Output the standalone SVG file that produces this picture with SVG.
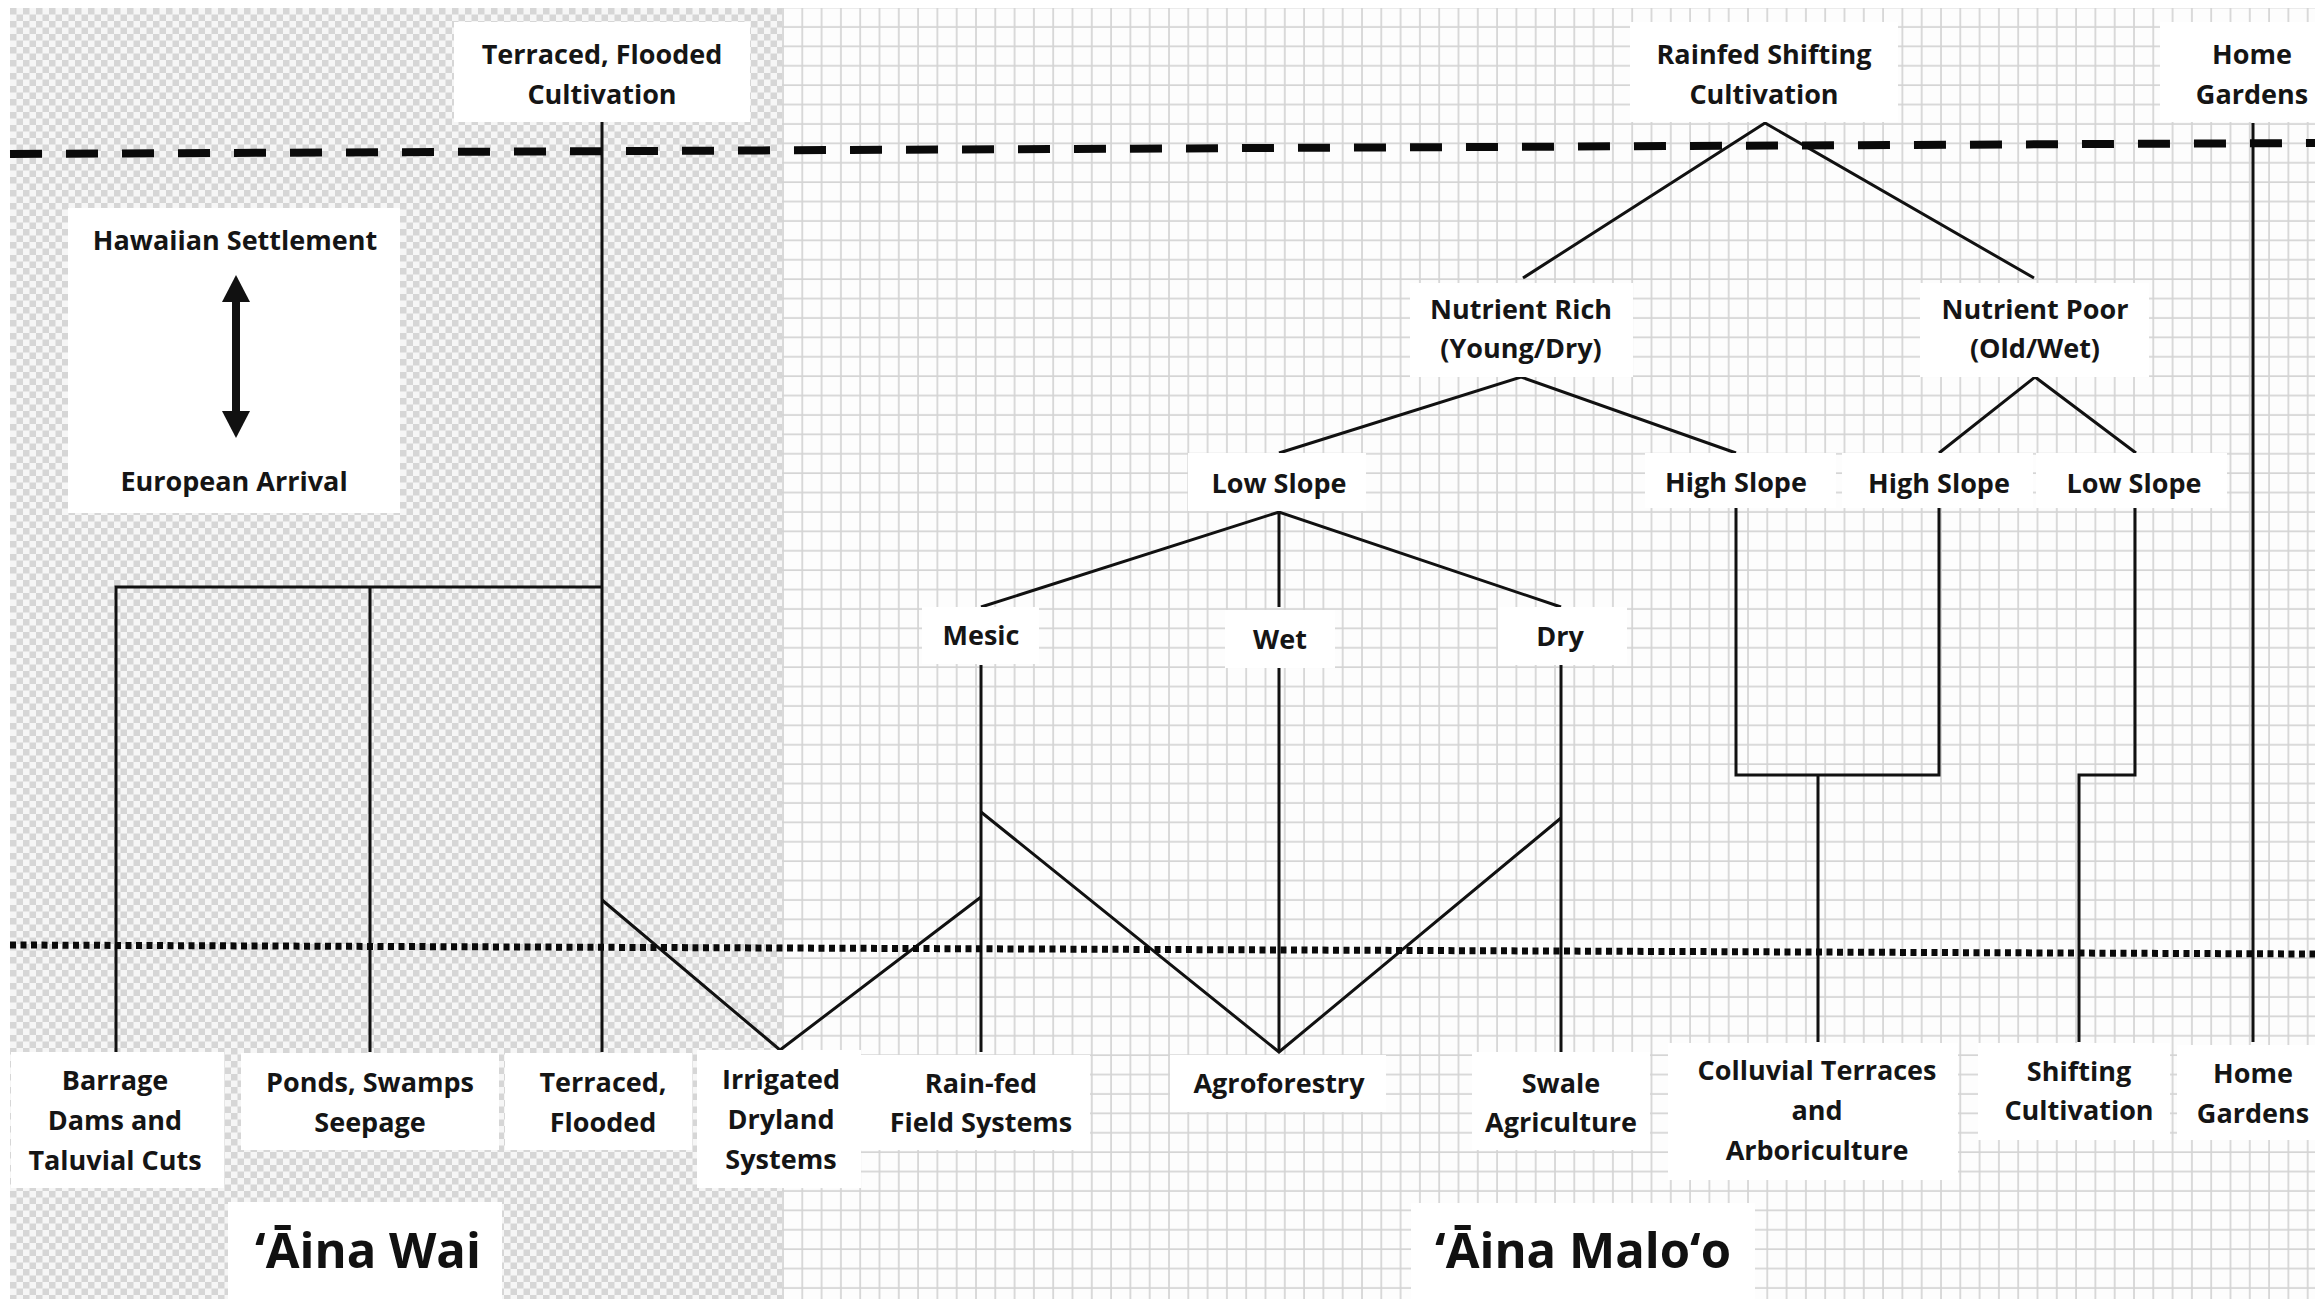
<svg xmlns="http://www.w3.org/2000/svg" width="2315" height="1299" viewBox="0 0 2315 1299">
<defs>
<pattern id="checker" x="10" y="8" width="13" height="13" patternUnits="userSpaceOnUse">
<rect width="13" height="13" fill="#f6f6f6"/>
<rect width="6.5" height="6.5" fill="#d6d6d6"/>
<rect x="6.5" y="6.5" width="6.5" height="6.5" fill="#d6d6d6"/>
</pattern>
<pattern id="grid" x="782" y="6.5" width="19.3" height="19.4" patternUnits="userSpaceOnUse">
<rect width="19.3" height="19.4" fill="#fdfdfd"/>
<path d="M1,0 V19.4 M0,1 H19.3" stroke="#d4d4d4" stroke-width="1.7" fill="none"/>
</pattern>
<marker id="head" viewBox="0 0 27 28" markerUnits="userSpaceOnUse" markerWidth="27" markerHeight="28" refX="12" refY="14" orient="auto-start-reverse">
<path d="M0,0 L27,14 L0,28 Z" fill="#111"/>
</marker>
<style>
.box{fill:#ffffff;stroke:none}
.lbl{font-family:"Open Sans","Liberation Sans",sans-serif;font-weight:700;font-size:27px;fill:#151515;text-anchor:middle}
.big{font-family:"Open Sans","Liberation Sans",sans-serif;font-weight:700;font-size:49px;fill:#111;text-anchor:middle}
.conn{stroke:#111;stroke-width:3;fill:none;stroke-linejoin:miter}
.dash{stroke:#0a0a0a;stroke-width:8;stroke-dasharray:32 24;fill:none}
.dot{stroke:#0a0a0a;stroke-width:7;stroke-dasharray:6 4.5;fill:none}
</style>
</defs>

<rect width="2315" height="1299" fill="#ffffff"/>
<rect x="10" y="8" width="772" height="1291" fill="url(#checker)"/>
<rect x="782" y="8" width="1533" height="1291" fill="url(#grid)"/>

<g id="connectors">
<path class="conn" d="M602,122 V1052"/>
<path class="conn" d="M116,1052 V587 H602"/>
<path class="conn" d="M370,587 V1052"/>
<path class="conn" d="M602,900 L780,1050 L981,897"/>
<path class="conn" d="M981,665 V1052"/>
<path class="conn" d="M981,812 L1279,1052 L1561,818"/>
<path class="conn" d="M1279,668 V1052"/>
<path class="conn" d="M1561,665 V1052"/>
<path class="conn" d="M981,607 L1279,512 L1561,607 M1279,512 V607"/>
<path class="conn" d="M1279,453 L1521,377 L1736,453"/>
<path class="conn" d="M1939,453 L2035,377 L2136,453"/>
<path class="conn" d="M1523,278 L1765,123 L2034,278"/>
<path class="conn" d="M1736,508 V775 H1939 V508 M1818,775 V1042"/>
<path class="conn" d="M2135,508 V775 H2079 V1042"/>
<path class="conn" d="M2253,123 V1042"/>
</g>

<g id="time-lines">
<line class="dash" x1="10" y1="154" x2="2315" y2="143"/>
<line class="dot" x1="10" y1="945" x2="2315" y2="954"/>
</g>

<g id="top-terraced-flooded-cultivation">
<rect class="box" x="454" y="22" width="296" height="100"/>
<text class="lbl"><tspan x="602" y="64">Terraced, Flooded</tspan><tspan x="602" y="104">Cultivation</tspan></text>
</g>
<g id="top-rainfed-shifting">
<rect class="box" x="1630" y="22" width="268" height="100"/>
<text class="lbl"><tspan x="1764" y="64">Rainfed Shifting</tspan><tspan x="1764" y="104">Cultivation</tspan></text>
</g>
<g id="top-home-gardens">
<rect class="box" x="2160" y="22" width="155" height="100"/>
<text class="lbl"><tspan x="2252" y="64">Home</tspan><tspan x="2252" y="104">Gardens</tspan></text>
</g>

<g id="legend">
<rect class="box" x="68" y="208" width="332" height="305"/>
<text class="lbl" x="235" y="250">Hawaiian Settlement</text>
<line x1="236" y1="290" x2="236" y2="423" stroke="#111" stroke-width="8" marker-start="url(#head)" marker-end="url(#head)"/>
<text class="lbl" x="234" y="491">European Arrival</text>
</g>

<g id="nutrient-rich">
<rect class="box" x="1410" y="283" width="223" height="94"/>
<text class="lbl"><tspan x="1521" y="319">Nutrient Rich</tspan><tspan x="1521" y="358">(Young/Dry)</tspan></text>
</g>
<g id="nutrient-poor">
<rect class="box" x="1920" y="283" width="229" height="94"/>
<text class="lbl"><tspan x="2035" y="319">Nutrient Poor</tspan><tspan x="2035" y="358">(Old/Wet)</tspan></text>
</g>
<g id="low-slope-rich">
<rect class="box" x="1188" y="453" width="178" height="58"/>
<text class="lbl" x="1279" y="493">Low Slope</text>
</g>
<g id="high-slope-rich">
<rect class="box" x="1645" y="453" width="191" height="55"/>
<text class="lbl" x="1736" y="492">High Slope</text>
</g>
<g id="high-slope-poor">
<rect class="box" x="1842" y="453" width="191" height="55"/>
<text class="lbl" x="1939" y="493">High Slope</text>
</g>
<g id="low-slope-poor">
<rect class="box" x="2036" y="453" width="191" height="55"/>
<text class="lbl" x="2134" y="493">Low Slope</text>
</g>
<g id="mesic">
<rect class="box" x="922" y="607" width="117" height="57"/>
<text class="lbl" x="981" y="645">Mesic</text>
</g>
<g id="wet">
<rect class="box" x="1225" y="610" width="110" height="58"/>
<text class="lbl" x="1280" y="649">Wet</text>
</g>
<g id="dry">
<rect class="box" x="1498" y="607" width="129" height="58"/>
<text class="lbl" x="1560" y="646">Dry</text>
</g>

<g id="barrage">
<rect class="box" x="11" y="1052" width="213" height="136"/>
<text class="lbl"><tspan x="115" y="1090">Barrage</tspan><tspan x="115" y="1130">Dams and</tspan><tspan x="115" y="1170">Taluvial Cuts</tspan></text>
</g>
<g id="ponds">
<rect class="box" x="241" y="1053" width="258" height="97"/>
<text class="lbl"><tspan x="370" y="1092">Ponds, Swamps</tspan><tspan x="370" y="1132">Seepage</tspan></text>
</g>
<g id="terraced-flooded">
<rect class="box" x="505" y="1053" width="187" height="97"/>
<text class="lbl"><tspan x="603" y="1092">Terraced,</tspan><tspan x="603" y="1132">Flooded</tspan></text>
</g>
<g id="irrigated-dryland">
<rect class="box" x="697" y="1050" width="164" height="138"/>
<text class="lbl"><tspan x="781" y="1089">Irrigated</tspan><tspan x="781" y="1129">Dryland</tspan><tspan x="781" y="1169">Systems</tspan></text>
</g>
<g id="rainfed-field">
<rect class="box" x="861" y="1055" width="229" height="95"/>
<text class="lbl"><tspan x="981" y="1093">Rain-fed</tspan><tspan x="981" y="1132">Field Systems</tspan></text>
</g>
<g id="agroforestry">
<rect class="box" x="1170" y="1055" width="216" height="57"/>
<text class="lbl" x="1279" y="1093">Agroforestry</text>
</g>
<g id="swale">
<rect class="box" x="1472" y="1052" width="178" height="98"/>
<text class="lbl"><tspan x="1561" y="1093">Swale</tspan><tspan x="1561" y="1132">Agriculture</tspan></text>
</g>
<g id="colluvial">
<rect class="box" x="1668" y="1043" width="290" height="137"/>
<text class="lbl"><tspan x="1817" y="1080">Colluvial Terraces</tspan><tspan x="1817" y="1120">and</tspan><tspan x="1817" y="1160">Arboriculture</tspan></text>
</g>
<g id="shifting">
<rect class="box" x="1978" y="1043" width="192" height="97"/>
<text class="lbl"><tspan x="2079" y="1081">Shifting</tspan><tspan x="2079" y="1120">Cultivation</tspan></text>
</g>
<g id="home-gardens">
<rect class="box" x="2177" y="1045" width="138" height="95"/>
<text class="lbl"><tspan x="2253" y="1083">Home</tspan><tspan x="2253" y="1123">Gardens</tspan></text>
</g>

<g id="aina-wai">
<rect class="box" x="228" y="1202" width="274" height="97"/>
<text class="big" x="368" y="1268">‘Āina Wai</text>
</g>
<g id="aina-maloo">
<rect class="box" x="1411" y="1203" width="344" height="96"/>
<text class="big" x="1583" y="1268">‘Āina Malo‘o</text>
</g>
</svg>
